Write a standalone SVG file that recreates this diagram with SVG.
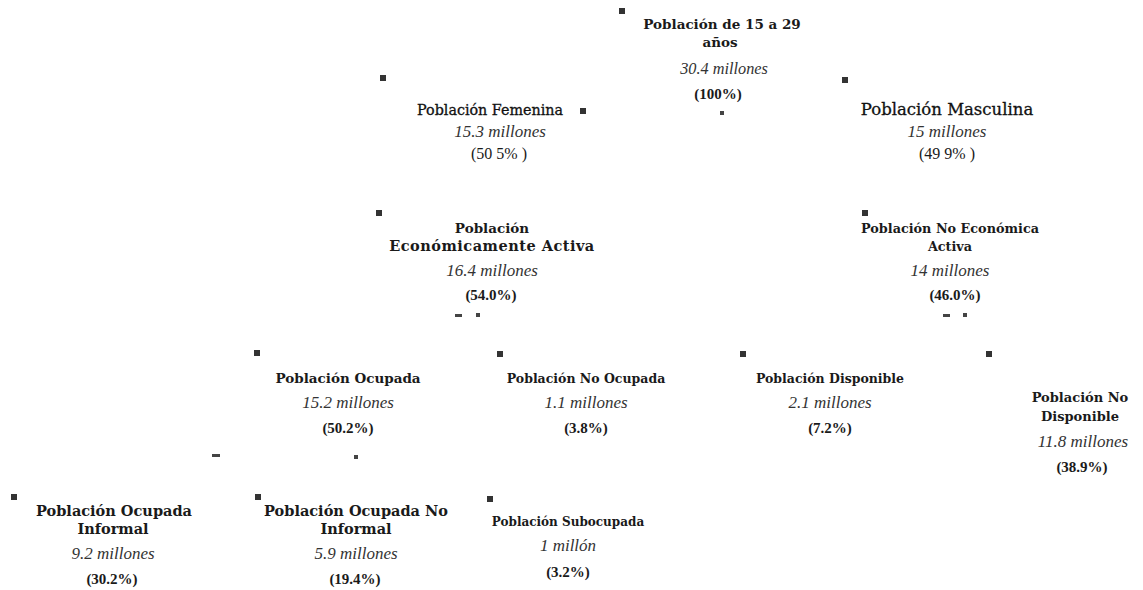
<svg xmlns="http://www.w3.org/2000/svg" width="1143" height="590" viewBox="0 0 1143 590">
<style>
.t{font-family:"DejaVu Serif",serif;font-weight:bold;font-size:13.5px;fill:#1a1a1a;text-anchor:middle}
.tr{font-family:"DejaVu Serif",serif;font-weight:normal;fill:#111;stroke:#111;stroke-width:0.3;text-anchor:middle}
.i{font-family:"Liberation Serif",serif;font-style:italic;font-size:17px;fill:#333;text-anchor:middle}
.p{font-family:"Liberation Serif",serif;font-weight:bold;font-size:15px;fill:#1a1a1a;text-anchor:middle}
.pr{font-family:"Liberation Serif",serif;font-size:16px;fill:#1a1a1a;text-anchor:middle}
.b{fill:#333}
.m{fill:#444}
</style>
<rect width="1143" height="590" fill="#fff"/>
<g id="n-total">
<rect class="b" x="619" y="8" width="6" height="6"/>
<text class="t" x="722" y="29">Población de 15 a 29</text>
<text class="t" x="720" y="47">años</text>
<text class="i" x="724" y="74" style="font-size:16.3px">30.4 millones</text>
<text class="p" x="718" y="99">(100%)</text>
</g>
<g id="n-fem">
<rect class="b" x="380" y="75" width="6" height="6"/>
<text class="tr" x="490" y="115" style="font-size:14.3px">Población Femenina</text>
<rect class="b" x="580" y="108" width="6" height="6"/>
<text class="i" x="500" y="137">15.3 millones</text>
<text class="pr" x="499" y="159">(50 5% )</text>
</g>
<g id="n-masc">
<rect class="b" x="842" y="77" width="6" height="6"/>
<text class="tr" x="947" y="115" style="font-size:16.5px">Población Masculina</text>
<text class="i" x="947" y="137">15 millones</text>
<text class="pr" x="947" y="159">(49 9% )</text>
</g>
<g id="n-pea">
<rect class="b" x="376" y="210" width="6" height="6"/>
<text class="t" x="492" y="233">Población</text>
<text class="t" x="492" y="251" style="font-size:14.5px;letter-spacing:0.5px">Económicamente Activa</text>
<text class="i" x="492" y="276">16.4 millones</text>
<text class="p" x="491" y="300">(54.0%)</text>
</g>
<g id="n-pnea">
<rect class="b" x="862" y="210" width="6" height="6"/>
<text class="t" x="950" y="233" style="font-size:12.8px">Población No Económica</text>
<text class="t" x="950" y="251" style="font-size:12.8px">Activa</text>
<text class="i" x="950" y="276">14 millones</text>
<text class="p" x="955" y="300">(46.0%)</text>
</g>
<g id="n-ocup">
<rect class="b" x="254" y="350" width="6" height="6"/>
<text class="t" x="348" y="383">Población Ocupada</text>
<text class="i" x="348" y="408">15.2 millones</text>
<text class="p" x="348" y="433">(50.2%)</text>
</g>
<g id="n-noocup">
<rect class="b" x="497" y="351" width="6" height="6"/>
<text class="t" x="586" y="383" style="font-size:12.5px">Población No Ocupada</text>
<text class="i" x="586" y="408">1.1 millones</text>
<text class="p" x="586" y="433">(3.8%)</text>
</g>
<g id="n-disp">
<rect class="b" x="740" y="351" width="6" height="6"/>
<text class="t" x="830" y="383" style="font-size:12.5px">Población Disponible</text>
<text class="i" x="830" y="408">2.1 millones</text>
<text class="p" x="830" y="433">(7.2%)</text>
</g>
<g id="n-nodisp">
<rect class="b" x="986" y="351" width="6" height="6"/>
<text class="t" x="1080" y="402" style="font-size:13px">Población No</text>
<text class="t" x="1080" y="421" style="font-size:13px">Disponible</text>
<text class="i" x="1083" y="447">11.8 millones</text>
<text class="p" x="1082" y="472">(38.9%)</text>
</g>
<g id="n-inf">
<rect class="b" x="11" y="494" width="6" height="6"/>
<text class="t" x="114" y="516" style="font-size:14.5px">Población Ocupada</text>
<text class="t" x="113" y="534" style="font-size:14.5px">Informal</text>
<text class="i" x="113" y="559">9.2 millones</text>
<text class="p" x="112" y="584">(30.2%)</text>
</g>
<g id="n-noinf">
<rect class="b" x="255" y="494" width="6" height="6"/>
<text class="t" x="356" y="516" style="font-size:14.5px">Población Ocupada No</text>
<text class="t" x="356" y="534" style="font-size:14.5px">Informal</text>
<text class="i" x="356" y="559">5.9 millones</text>
<text class="p" x="355" y="584">(19.4%)</text>
</g>
<g id="n-subocup">
<rect class="b" x="487" y="496" width="6" height="6"/>
<text class="t" x="568" y="526" style="font-size:12px">Población Subocupada</text>
<text class="i" x="568" y="551">1 millón</text>
<text class="p" x="568" y="577">(3.2%)</text>
</g>
<g id="connectors">
<rect class="m" x="720" y="111" width="4" height="4"/>
<rect class="m" x="455" y="314" width="7" height="3"/>
<rect class="m" x="476" y="313" width="4" height="4"/>
<rect class="m" x="943" y="314" width="7" height="3"/>
<rect class="m" x="963" y="313" width="4" height="4"/>
<rect class="m" x="354" y="455" width="4" height="4"/>
<rect class="m" x="212" y="454" width="8" height="3"/>
</g>
</svg>
